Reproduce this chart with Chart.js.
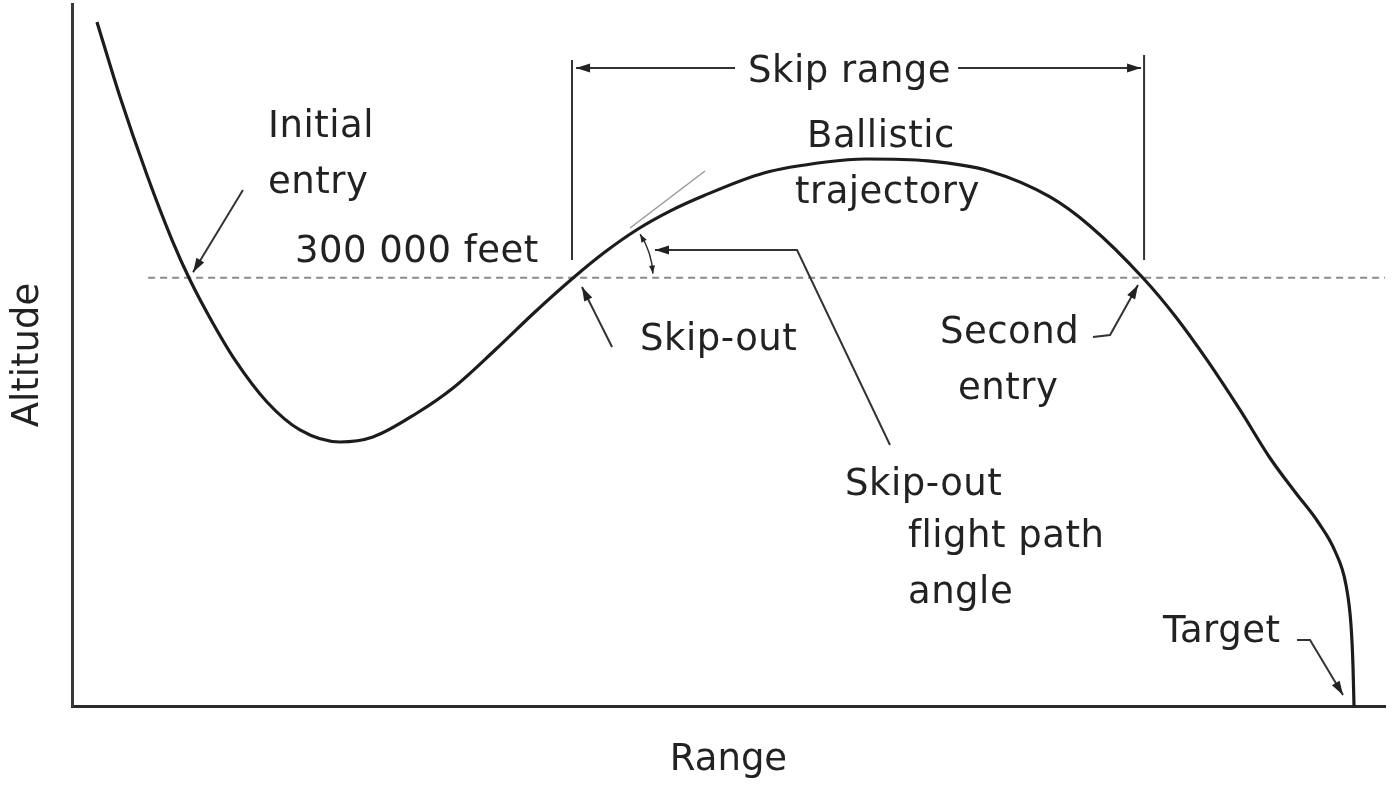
<!DOCTYPE html>
<html>
<head>
<meta charset="utf-8">
<title>Skip entry trajectory</title>
<script src="https://cdn.jsdelivr.net/npm/chart.js@4.4.0/dist/chart.umd.min.js"></script>
<style>
  html, body { margin: 0; padding: 0; background: #fff; }
  #wrap { width: 1395px; height: 785px; }
</style>
</head>
<body>
<div id="wrap"><canvas id="chart" width="1395" height="785"></canvas></div>
<script>
// Trajectory (range 0-100, altitude 0-100)
const rangeVals = [1.90, 3.66, 5.71, 7.62, 8.99, 10.51, 12.41, 14.85, 17.36, 20.41,
  22.92, 26.28, 29.02, 32.22, 35.26, 38.16, 40.59, 43.11, 45.54, 48.06,
  52.70, 57.43, 60.47, 65.19, 69.84, 74.49, 77.53, 81.57, 84.01, 86.44,
  88.96, 91.24, 93.15, 94.90, 96.19, 97.03, 97.41, 97.56, 97.64];
const altitudeVals = [97.44, 86.75, 75.64, 66.38, 60.68, 55.27, 49.29, 43.30, 39.32, 37.61,
  38.32, 41.74, 45.30, 50.71, 56.13, 60.97, 64.67, 67.95, 70.50, 72.65,
  75.93, 77.49, 77.92, 77.64, 76.21, 72.51, 68.38, 60.97, 55.56, 49.30,
  42.17, 35.33, 30.48, 26.21, 22.08, 17.24, 11.54, 5.84, 0];

// 300 000 feet level
const entryLevel = 61.0;
const entryLineRange = [5.8, 100];

// Texts on the drawing
const notes = [
  { text: "Initial", x: 14.93, y: 81.05 },
  { text: "entry", x: 14.93, y: 73.08 },
  { text: "300 000 feet", x: 16.98, y: 63.2 },
  { text: "Skip range", x: 51.49, y: 88.89 },
  { text: "Ballistic", x: 55.98, y: 79.63 },
  { text: "trajectory", x: 55.06, y: 71.65 },
  { text: "Skip-out", x: 43.26, y: 50.71 },
  { text: "Second", x: 66.11, y: 51.71 },
  { text: "entry", x: 67.48, y: 43.73 },
  { text: "Skip-out", x: 58.87, y: 30.06 },
  { text: "flight path", x: 63.67, y: 22.65 },
  { text: "angle", x: 63.67, y: 14.67 },
  { text: "Target", x: 83.09, y: 9.12 }
];

// Pointer lines (arrowhead on the last point)
const pointers = [
  { pts: [[13.02, 73.5], [9.22, 61.8]], head: true },
  { pts: [[41.13, 51.14], [38.84, 59.69]], head: true },
  { pts: [[77.76, 52.56], [79.06, 52.85], [81.19, 59.97]], head: true },
  { pts: [[93.30, 9.40], [94.29, 9.40], [96.80, 1.57]], head: true },
  { pts: [[62.30, 37.18], [55.22, 64.96], [44.40, 64.96]], head: true },
  { pts: [[50.50, 90.88], [38.39, 90.88]], head: true },
  { pts: [[67.48, 90.88], [81.42, 90.88]], head: true },
  { pts: [[38.08, 92.02], [38.08, 63.53]], head: false },
  { pts: [[81.65, 92.74], [81.65, 63.53]], head: false }
];
const tangent = [[42.50, 68.09], [48.21, 76.21]];
const skipOutPoint = [38.16, 61.0];

function arrowHead(ctx, x0, y0, x1, y1, len, half) {
  const a = Math.atan2(y1 - y0, x1 - x0);
  ctx.beginPath();
  ctx.moveTo(x1, y1);
  ctx.lineTo(x1 - len * Math.cos(a) + half * Math.sin(a), y1 - len * Math.sin(a) - half * Math.cos(a));
  ctx.lineTo(x1 - len * Math.cos(a) - half * Math.sin(a), y1 - len * Math.sin(a) + half * Math.cos(a));
  ctx.closePath();
  ctx.fill();
}

const notesPlugin = {
  id: "notes",
  afterDatasetsDraw(chart) {
    const ctx = chart.ctx;
    const xs = chart.scales.x, ys = chart.scales.y;
    const P = (p) => [xs.getPixelForValue(p[0]), ys.getPixelForValue(p[1])];
    ctx.save();

    // tangent at skip-out
    ctx.strokeStyle = "#999";
    ctx.lineWidth = 1.5;
    ctx.beginPath();
    ctx.moveTo(...P(tangent[0]));
    ctx.lineTo(...P(tangent[1]));
    ctx.stroke();

    // pointers
    ctx.strokeStyle = "#333";
    ctx.fillStyle = "#222";
    ctx.lineWidth = 2;
    pointers.forEach(p => {
      const pts = p.pts.map(P);
      ctx.beginPath();
      ctx.moveTo(pts[0][0], pts[0][1]);
      for (let i = 1; i < pts.length; i++) ctx.lineTo(pts[i][0], pts[i][1]);
      ctx.stroke();
      if (p.head) {
        const a = pts[pts.length - 2], b = pts[pts.length - 1];
        arrowHead(ctx, a[0], a[1], b[0], b[1], 14, 4.5);
      }
    });

    // flight path angle arc
    const c = P(skipOutPoint);
    const r = 80, a0 = -33 * Math.PI / 180, a1 = -3 * Math.PI / 180;
    ctx.lineWidth = 1.5;
    ctx.beginPath();
    ctx.arc(c[0], c[1], r, a0, a1);
    ctx.stroke();
    const e0 = [c[0] + r * Math.cos(a0), c[1] + r * Math.sin(a0)];
    const e1 = [c[0] + r * Math.cos(a1), c[1] + r * Math.sin(a1)];
    arrowHead(ctx, c[0] + r * Math.cos(a0 + 0.12), c[1] + r * Math.sin(a0 + 0.12), e0[0], e0[1], 8, 3);
    arrowHead(ctx, c[0] + r * Math.cos(a1 - 0.12), c[1] + r * Math.sin(a1 - 0.12), e1[0], e1[1], 8, 3);

    // texts
    ctx.fillStyle = "#222";
    ctx.font = "37px 'DejaVu Sans'";
    ctx.letterSpacing = "0.5px";
    ctx.textAlign = "left";
    ctx.textBaseline = "alphabetic";
    notes.forEach(n => {
      const p = P([n.x, n.y]);
      ctx.fillText(n.text, p[0], p[1]);
    });
    ctx.restore();
  }
};

new Chart(document.getElementById("chart"), {
  type: "scatter",
  data: {
    datasets: [
      {
        label: "Trajectory",
        data: rangeVals.map((x, i) => ({ x, y: altitudeVals[i] })),
        showLine: true,
        borderColor: "#1c1c1c",
        borderWidth: 3.2,
        pointRadius: 0,
        cubicInterpolationMode: "monotone",
        fill: false
      },
      {
        label: "300 000 feet",
        data: entryLineRange.map(x => ({ x, y: entryLevel })),
        showLine: true,
        borderColor: "#8a8a8a",
        borderWidth: 2,
        borderDash: [7, 5],
        pointRadius: 0
      }
    ]
  },
  options: {
    responsive: false,
    animation: false,
    devicePixelRatio: 1,
    layout: { padding: { top: 4, right: 10, left: 0, bottom: 0 } },
    plugins: { legend: { display: false }, tooltip: { enabled: false } },
    scales: {
      x: {
        type: "linear", min: 0, max: 100,
        grid: { display: false, drawTicks: false },
        ticks: { display: false },
        border: { display: true, color: "#2a2a2a", width: 3 },
        title: {
          display: true, text: "Range", color: "#222",
          font: { family: "DejaVu Sans", size: 37, lineHeight: 1 },
          padding: { top: 36, bottom: 6 }
        }
      },
      y: {
        type: "linear", min: 0, max: 100,
        grid: { display: false, drawTicks: false },
        ticks: { display: false },
        border: { display: true, color: "#3a3a3a", width: 3 },
        title: {
          display: true, text: "Altitude", color: "#222",
          font: { family: "DejaVu Sans", size: 37, lineHeight: 1 },
          padding: { top: 10, bottom: 25 }
        }
      }
    }
  },
  plugins: [notesPlugin]
});
</script>
</body>
</html>
